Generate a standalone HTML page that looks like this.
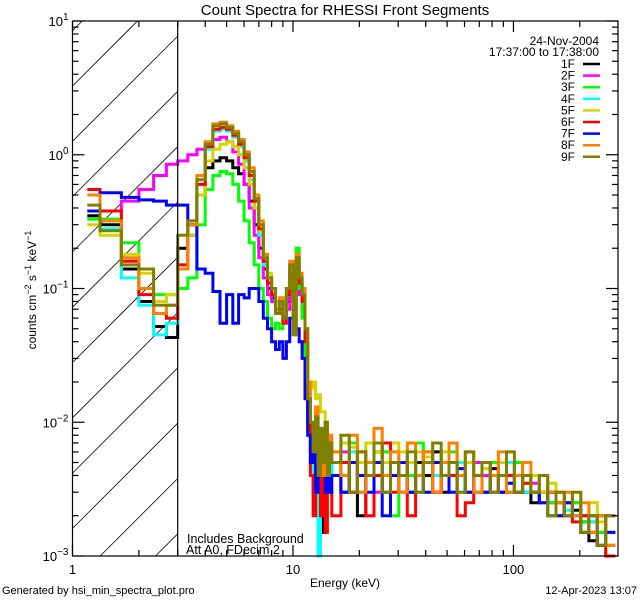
<!DOCTYPE html>
<html><head><meta charset="utf-8"><style>
html,body{margin:0;padding:0;background:#fff;width:640px;height:600px;overflow:hidden}
svg{display:block;font-family:"Liberation Sans",sans-serif}
</style></head><body>
<svg id="chart" width="640" height="600" viewBox="0 0 640 600">
<rect width="640" height="600" fill="#fff"/>
<text x="345" y="15" font-size="15" text-anchor="middle">Count Spectra for RHESSI Front Segments</text>
<g id="hatch"></g>
<g id="series"></g>
<g id="axes"></g>
<g id="legend">
<text x="599" y="45" font-size="12" text-anchor="end">24-Nov-2004</text>
<text x="599" y="56" font-size="12" text-anchor="end">17:37:00 to 17:38:00</text>
</g>
<text x="187" y="543" font-size="12.5">Includes Background</text>
<text x="186" y="554" font-size="12.5">Att A0, FDecim 2</text>
<text x="345" y="587" font-size="12" text-anchor="middle">Energy (keV)</text>
<text transform="translate(36,290) rotate(-90)" font-size="12" text-anchor="middle">counts cm<tspan dy="-5" font-size="9">−2</tspan><tspan dy="5"> s</tspan><tspan dy="-5" font-size="9">−1</tspan><tspan dy="5"> keV</tspan><tspan dy="-5" font-size="9">−1</tspan></text>
<text x="2" y="594" font-size="11">Generated by hsi_min_spectra_plot.pro</text>
<text x="637" y="594" font-size="11" text-anchor="end">12-Apr-2023 13:07</text>
</svg>
<script>
const edges=[1.167,1.333,1.667,2.0,2.333,2.667,3.0,
3.333,3.667,4.0,4.333,4.667,5.0,5.333,5.667,6.0,6.333,6.667,7.0,7.333,7.667,8.0,8.333,8.667,9.0,9.333,9.667,10.0,10.333,10.667,11.0,11.333,11.667,12.0,12.333,12.667,13.0,13.333,13.667,14.0,14.333,14.667,15.0,
16.5,18,19.6,21.4,23.3,25.4,27.7,30.2,33,36,39,43,47,51,55.5,60.5,66,72,78.5,85.5,93,101,110,120,131,143,156,170,185,202,220,240,262,290];
const seriesNames=["1F","2F","3F","4F","5F","6F","7F","8F","9F"];
const seriesColors=["#000000","#ff00ff","#00ff00","#00ffff","#d4d400","#ff0000","#0000ff","#ff8000","#808000"];
const s1F=[0.35,0.3,0.14,0.08,0.052,0.043,
0.2,0.25,0.5,0.8,0.9,0.95,0.9,0.8,0.72,0.6,0.45,0.3,0.2,0.14,0.1,0.085,0.07,0.075,0.06,0.08,0.12,0.05,0.12,0.1,0.07,0.04,0.012,0.006,0.003,0.008,0.002,0.006,0.0015,0.005,0.003,0.004,
0.004,0.003,0.005,0.002,0.004,0.006,0.003,0.004,0.005,0.003,0.005,0.004,0.006,0.003,0.004,0.005,0.003,0.004,0.003,0.0045,0.003,0.005,0.003,0.003,0.0025,0.003,0.002,0.0025,0.002,0.0022,0.0018,0.0013,0.002,0.0012];
const s2F=[0.38,0.38,0.45,0.55,0.7,0.85,
0.9,1.0,1.1,1.2,1.3,1.35,1.25,1.05,0.85,0.6,0.4,0.25,0.17,0.12,0.09,0.08,0.07,0.065,0.06,0.07,0.1,0.06,0.1,0.09,0.07,0.04,0.015,0.008,0.005,0.007,0.003,0.006,0.004,0.007,0.003,0.005,
0.004,0.006,0.003,0.005,0.004,0.003,0.006,0.004,0.003,0.005,0.004,0.006,0.003,0.005,0.007,0.004,0.003,0.005,0.004,0.003,0.005,0.003,0.004,0.003,0.0035,0.003,0.0025,0.003,0.002,0.0025,0.002,0.0018,0.0015,0.002];
const s3F=[0.33,0.33,0.22,0.1,0.09,0.09,
0.1,0.12,0.3,0.55,0.7,0.75,0.72,0.6,0.45,0.32,0.22,0.15,0.1,0.08,0.06,0.05,0.055,0.05,0.06,0.09,0.14,0.06,0.2,0.1,0.06,0.03,0.008,0.004,0.005,0.003,0.006,0.004,0.005,0.003,0.004,0.006,
0.006,0.004,0.007,0.003,0.005,0.004,0.006,0.002,0.005,0.004,0.007,0.003,0.005,0.004,0.006,0.003,0.005,0.004,0.003,0.005,0.004,0.003,0.005,0.003,0.004,0.003,0.0025,0.003,0.002,0.0025,0.0018,0.002,0.0015,0.0012];
const s4F=[0.55,0.28,0.12,0.075,0.045,0.055,
0.15,0.3,0.6,1.1,1.5,1.55,1.5,1.35,1.15,0.9,0.65,0.4,0.25,0.15,0.11,0.09,0.07,0.075,0.06,0.09,0.13,0.05,0.15,0.11,0.08,0.045,0.012,0.007,0.003,0.005,0.001,0.004,0.006,0.003,0.005,0.004,
0.005,0.004,0.006,0.003,0.004,0.005,0.003,0.006,0.004,0.005,0.003,0.005,0.004,0.006,0.004,0.005,0.003,0.004,0.005,0.004,0.003,0.005,0.004,0.003,0.003,0.004,0.002,0.003,0.0022,0.002,0.0015,0.0018,0.0012,0.0015];
const s5F=[0.3,0.25,0.18,0.13,0.08,0.09,
0.14,0.25,0.5,0.9,1.1,1.2,1.25,1.15,1.0,0.8,0.6,0.4,0.27,0.18,0.13,0.1,0.08,0.085,0.07,0.1,0.15,0.07,0.15,0.12,0.1,0.05,0.02,0.018,0.02,0.015,0.016,0.012,0.012,0.01,0.008,0.007,
0.006,0.007,0.0065,0.005,0.007,0.006,0.005,0.007,0.006,0.005,0.006,0.0055,0.005,0.006,0.005,0.0045,0.005,0.004,0.0045,0.004,0.005,0.0035,0.004,0.0035,0.004,0.003,0.0035,0.003,0.0025,0.003,0.002,0.0025,0.0018,0.0015];
const s6F=[0.55,0.38,0.16,0.09,0.065,0.06,
0.15,0.3,0.6,1.15,1.55,1.6,1.55,1.4,1.2,0.95,0.7,0.45,0.28,0.16,0.11,0.09,0.065,0.07,0.055,0.09,0.13,0.05,0.15,0.11,0.08,0.04,0.01,0.004,0.002,0.006,0.004,0.002,0.005,0.0015,0.004,0.003,
0.002,0.005,0.003,0.006,0.002,0.004,0.007,0.003,0.005,0.002,0.004,0.006,0.003,0.005,0.004,0.002,0.0025,0.003,0.005,0.004,0.003,0.004,0.003,0.0035,0.003,0.0025,0.003,0.002,0.0025,0.0018,0.002,0.0015,0.0012,0.001];
const s7F=[0.38,0.52,0.48,0.46,0.45,0.42,
0.42,0.3,0.14,0.13,0.095,0.055,0.09,0.055,0.09,0.085,0.1,0.1,0.08,0.06,0.05,0.04,0.035,0.04,0.03,0.04,0.06,0.055,0.05,0.04,0.03,0.015,0.008,0.005,0.006,0.003,0.005,0.004,0.006,0.003,0.004,0.003,
0.004,0.003,0.005,0.004,0.003,0.005,0.002,0.004,0.005,0.003,0.004,0.003,0.005,0.004,0.003,0.0045,0.003,0.004,0.003,0.004,0.003,0.0035,0.003,0.004,0.003,0.0025,0.003,0.002,0.0025,0.002,0.0015,0.002,0.0012,0.0015];
const s8F=[0.5,0.32,0.17,0.1,0.065,0.075,
0.14,0.3,0.7,1.25,1.7,1.75,1.65,1.5,1.3,1.05,0.8,0.5,0.32,0.18,0.12,0.1,0.07,0.085,0.065,0.1,0.16,0.05,0.18,0.13,0.1,0.05,0.02,0.01,0.008,0.013,0.005,0.008,0.004,0.009,0.005,0.008,
0.006,0.004,0.008,0.003,0.005,0.009,0.004,0.006,0.003,0.007,0.004,0.006,0.003,0.005,0.007,0.004,0.006,0.003,0.005,0.004,0.006,0.003,0.004,0.005,0.003,0.004,0.003,0.0025,0.003,0.002,0.0025,0.0015,0.002,0.0012];
const s9F=[0.42,0.27,0.15,0.14,0.075,0.075,
0.25,0.32,0.65,1.2,1.65,1.7,1.6,1.45,1.25,1.0,0.75,0.47,0.3,0.17,0.12,0.1,0.065,0.08,0.06,0.1,0.15,0.045,0.17,0.12,0.09,0.05,0.015,0.01,0.006,0.011,0.004,0.009,0.005,0.01,0.004,0.007,
0.005,0.008,0.003,0.006,0.004,0.007,0.003,0.005,0.004,0.006,0.003,0.005,0.007,0.004,0.005,0.003,0.006,0.004,0.005,0.003,0.004,0.006,0.003,0.004,0.003,0.004,0.002,0.003,0.002,0.003,0.0015,0.002,0.0012,0.002];
const seriesValues=[s1F,s2F,s3F,s4F,s5F,s6F,s7F,s8F,s9F];
const xTickLabels=["1","10","100"];
const yTickExps=["1","0","−1","−2","−3"];

const NS="http://www.w3.org/2000/svg";
const X0=72.5,X1=618,Y0=21,Y1=556;
const XMIN=0,XMAX=Math.log10(298),YMIN=-3,YMAX=1;
function xs(e){return X0+(Math.log10(e)-XMIN)/(XMAX-XMIN)*(X1-X0);}
function ys(v){v=Math.max(v,1e-3);v=Math.min(v,10);return Y1-(Math.log10(v)-YMIN)/(YMAX-YMIN)*(Y1-Y0);}
function mk(tag,attrs,parent){const el=document.createElementNS(NS,tag);for(const k in attrs)el.setAttribute(k,attrs[k]);parent.appendChild(el);return el;}

// hatch: 45-degree lines, geometrically clipped to the excluded region
const hatch=document.getElementById('hatch');
const XH=xs(3);
for(let yl=86-55.3*3;yl<Y1+(XH-X0);yl+=55.3){
  // line: y = yl - (x - X0)
  const xa=Math.max(X0,X0+yl-Y1), xb=Math.min(XH,X0+yl-Y0);
  if(xb<=xa)continue;
  const ln=mk('line',{x1:xa,y1:yl-(xa-X0),x2:xb,y2:yl-(xb-X0),stroke:'#000','stroke-width':0.8},hatch);
  
  
}

// series
const sg=document.getElementById('series');
seriesValues.forEach((vals,si)=>{
  let d='';
  for(let i=0;i<vals.length;i++){
    const xa=xs(edges[i]).toFixed(1),xb=xs(edges[i+1]).toFixed(1),y=ys(vals[i]).toFixed(1);
    d+=(i===0?'M':'L')+xa+','+y+'L'+xb+','+y;
  }
  const p=mk('path',{d:d,fill:'none',stroke:seriesColors[si],'stroke-width':3,'stroke-linejoin':'miter','stroke-linecap':'butt'},sg);
  
  
});

// axes
const ax=document.getElementById('axes');
const frame=mk('rect',{x:X0,y:Y0,width:X1-X0,height:Y1-Y0,fill:'none',stroke:'#000','stroke-width':1.2},ax);


const vline=mk('line',{x1:XH,y1:Y0,x2:XH,y2:Y1,stroke:'#000','stroke-width':1.2},ax);


for(let dec=0;dec<3;dec++){
  for(let m=1;m<10;m++){
    const e=m*Math.pow(10,dec); if(e>298)break;
    const x=xs(e),L=m===1?11:6;
    const t1=mk('line',{x1:x,y1:Y1,x2:x,y2:Y1-L,stroke:'#000','stroke-width':1.2},ax);
    
    
    const t2=mk('line',{x1:x,y1:Y0,x2:x,y2:Y0+L,stroke:'#000','stroke-width':1.2},ax);
    
    
  }
}
xTickLabels.forEach((lab,i)=>{
  const t=mk('text',{x:xs(Math.pow(10,i)),y:574,'font-size':13,'text-anchor':'middle'},ax);
  t.textContent=lab;
  
  
});
for(let dec=-3;dec<=1;dec++){
  for(let m=1;m<10;m++){
    if(dec===1&&m>1)break;
    const y=ys(m*Math.pow(10,dec)),L=m===1?12:6;
    const t1=mk('line',{x1:X0,y1:y,x2:X0+L,y2:y,stroke:'#000','stroke-width':1.2},ax);
    
    
    const t2=mk('line',{x1:X1,y1:y,x2:X1-L,y2:y,stroke:'#000','stroke-width':1.2},ax);
    
    
  }
}
yTickExps.forEach((ex,i)=>{
  const y=ys(Math.pow(10,1-i));
  const t=mk('text',{x:X0-4,y:y+5,'font-size':13,'text-anchor':'end'},ax);
  
  
  const a=mk('tspan',{},t);a.textContent='10';
  const b=mk('tspan',{dy:-6,'font-size':10},t);b.textContent=ex;
});

// legend
const lg=document.getElementById('legend');
seriesNames.forEach((n,i)=>{
  const y=68+i*11.6;
  const t=mk('text',{x:575,y:y,'font-size':12,'text-anchor':'end'},lg);
  t.textContent=n;
  
  
  const l=mk('line',{x1:583,y1:y-4,x2:600,y2:y-4,stroke:seriesColors[i],'stroke-width':2.5},lg);
  
  
});
</script>
</body></html>
